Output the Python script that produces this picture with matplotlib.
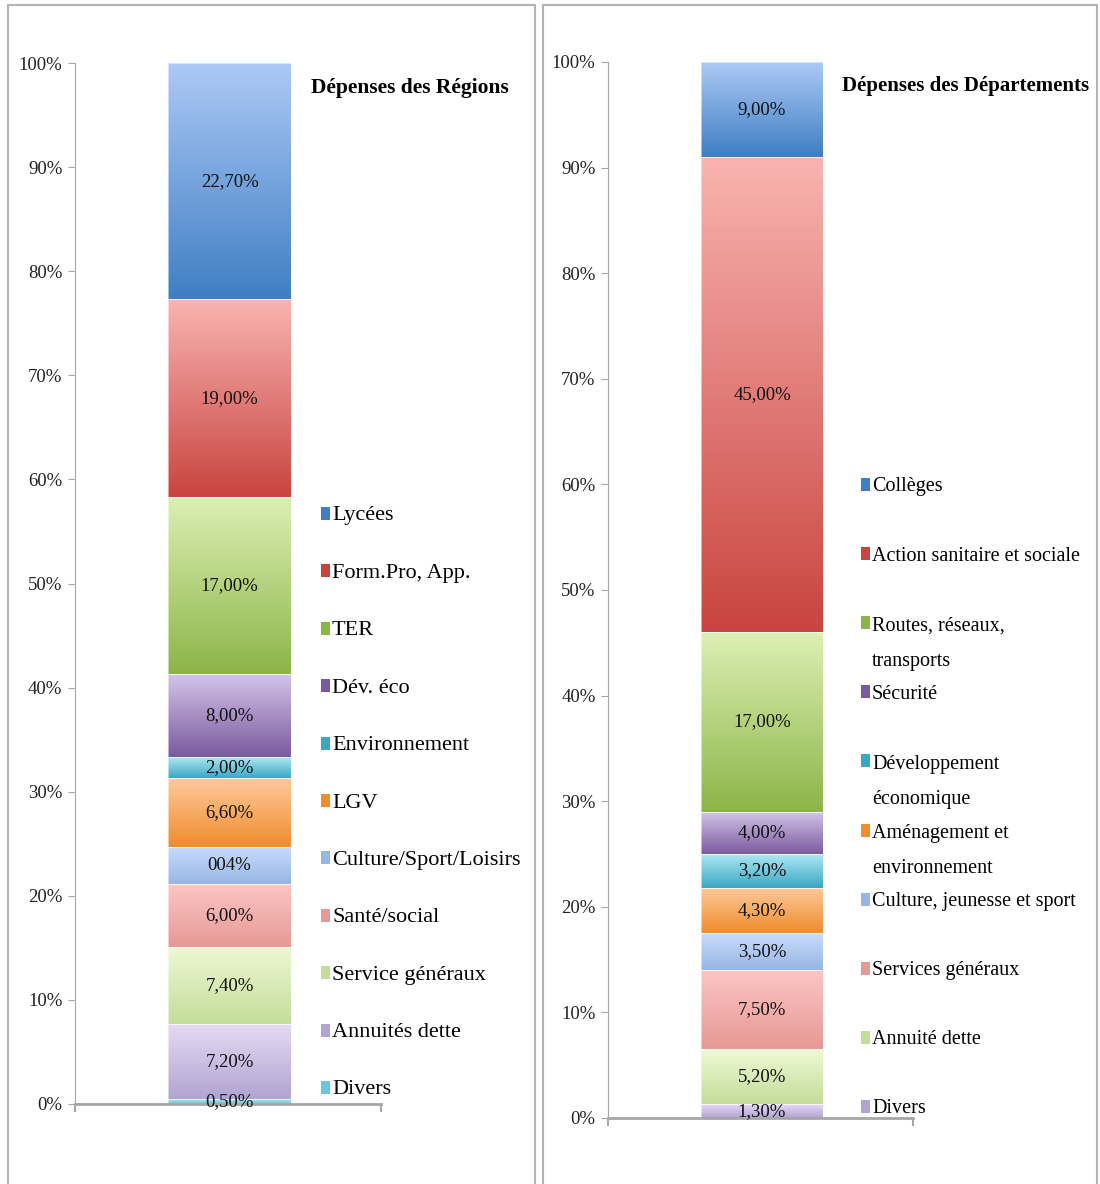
import numpy as np
import matplotlib
matplotlib.use("Agg")
import matplotlib.pyplot as plt
from matplotlib.colors import LinearSegmentedColormap
from matplotlib.patches import Rectangle

plt.rcParams['font.family'] = ['Liberation Serif', 'DejaVu Serif']

# Dépenses des Régions (du bas vers le haut)
reg_names = ["Divers", "Annuités dette", "Service généraux", "Santé/social",
             "Culture/Sport/Loisirs", "LGV", "Environnement", "Dév. éco",
             "TER", "Form.Pro, App.", "Lycées"]
reg_values = [0.5, 7.2, 7.4, 6.0, 3.6, 6.6, 2.0, 8.0, 17.0, 19.0, 22.7]
reg_labels = ["0,50%", "7,20%", "7,40%", "6,00%", "004%", "6,60%", "2,00%",
              "8,00%", "17,00%", "19,00%", "22,70%"]

# Dépenses des Départements (du bas vers le haut)
dep_names = ["Divers", "Annuité dette", "Services généraux",
             "Culture, jeunesse et sport", "Aménagement et\nenvironnement",
             "Développement\néconomique", "Sécurité",
             "Routes, réseaux,\ntransports", "Action sanitaire et sociale",
             "Collèges"]
dep_values = [1.3, 5.2, 7.5, 3.5, 4.3, 3.2, 4.0, 17.0, 45.0, 9.0]
dep_labels = ["1,30%", "5,20%", "7,50%", "3,50%", "4,30%", "3,20%", "4,00%",
              "17,00%", "45,00%", "9,00%"]

# (foncé en bas, clair en haut)
BLUE = ("#3f7ec4", "#adcaf6")
RED = ("#c9443f", "#f9b4b1")
GREEN = ("#8cb548", "#dcf0b4")
PURPLE = ("#7a5a9e", "#d4c6ea")
CYAN = ("#3aa8c3", "#aee7f5")
ORANGE = ("#f08c2c", "#fdca9c")
LBLUE = ("#98b6e4", "#c9dcfb")
LRED = ("#e69996", "#fcc6c4")
LGREEN = ("#c3dd9a", "#eff9d5")
LPURPLE = ("#b3a3d1", "#e5dbf4")
LCYAN = ("#6ac6db", "#b4eaf6")

reg_colors = [LCYAN, LPURPLE, LGREEN, LRED, LBLUE, ORANGE, CYAN, PURPLE,
              GREEN, RED, BLUE]
dep_colors = [LPURPLE, LGREEN, LRED, LBLUE, ORANGE, CYAN, PURPLE, GREEN,
              RED, BLUE]

W, H = 1100, 1184
fig = plt.figure(figsize=(W / 100, H / 100), dpi=100)


def fx(px):
    return px / W


def fy(py):
    return 1 - py / H


# cadres des deux graphiques
for x0, x1 in [(8, 535), (543, 1097)]:
    fig.add_artist(Rectangle((fx(x0), fy(H + 20)), fx(x1 - x0), (H + 15) / H,
                             transform=fig.transFigure, fill=False,
                             edgecolor="#b4b4b4", lw=1.5))


def panel(rect, names, values, labels, colors, title, title_xy, title_fs,
          leg_x, leg_y0, leg_step, leg_fs):
    ax = fig.add_axes(rect)
    vals = np.array(values) / np.sum(values) * 100
    bottoms = np.concatenate([[0], np.cumsum(vals)[:-1]])
    bars = ax.bar([0.505] * len(vals), vals, width=0.4, bottom=bottoms,
                  color="none", edgecolor="none", zorder=2)
    grad = np.linspace(0, 1, 256).reshape(-1, 1)
    for p, c, lab in zip(bars.patches, colors, labels):
        x0, y0 = p.get_x(), p.get_y()
        w, h = p.get_width(), p.get_height()
        cmap = LinearSegmentedColormap.from_list("g", list(c))
        ax.imshow(grad, cmap=cmap, origin="lower", aspect="auto",
                  extent=[x0, x0 + w, y0, y0 + h], zorder=1,
                  interpolation="bilinear")
        ax.add_patch(Rectangle((x0, y0), w, h, fill=False,
                               edgecolor="white", lw=0.6, alpha=0.6, zorder=2))
        ax.text(x0 + w / 2, y0 + h / 2, lab, ha="center", va="center",
                fontsize=13.5, color="#111111", zorder=4)
    ax.set_xlim(0, 1)
    ax.set_ylim(0, 100)
    ax.set_yticks(np.arange(0, 101, 10))
    ax.set_yticklabels([f"{v}%" for v in range(0, 101, 10)])
    ax.set_xticks([0, 1])
    ax.set_xticklabels(["", ""])
    for s in ["top", "right"]:
        ax.spines[s].set_visible(False)
    ax.spines["left"].set_color("#a6a6a6")
    ax.spines["bottom"].set_color("#a6a6a6")
    ax.spines["bottom"].set_linewidth(2)
    ax.spines["bottom"].set_zorder(3)
    ax.tick_params(axis="y", length=5, color="#a6a6a6", labelsize=13.5,
                   labelcolor="#222222", pad=4)
    ax.tick_params(axis="x", length=6, color="#a6a6a6", width=1.5)
    ax.set_facecolor("none")

    fig.text(fx(title_xy[0]), fy(title_xy[1]), title, fontsize=title_fs,
             fontweight="bold", ha="left", va="center")

    # légende
    line_px = 37
    for i, (n, c) in enumerate(zip(names[::-1], colors[::-1])):
        yc = leg_y0 + i * leg_step
        nl = n.count("\n")
        fig.add_artist(Rectangle((fx(leg_x - 11), fy(yc + 4)), fx(9), 13 / H,
                                 transform=fig.transFigure,
                                 facecolor=c[0], edgecolor="none"))
        fig.text(fx(leg_x), fy(yc + nl * line_px / 2), n, fontsize=leg_fs,
                 ha="left", va="center",
                 linespacing=line_px / (leg_fs * 100 / 72 * 0.84))
    return ax


panel([fx(75), fy(1104), fx(306), (1104 - 63) / H], reg_names, reg_values,
      reg_labels, reg_colors, "Dépenses des Régions", (311, 88), 15.5,
      332, 516, 57.4, 16)
panel([fx(608), fy(1118), fx(305), (1118 - 62) / H], dep_names, dep_values,
      dep_labels, dep_colors, "Dépenses des Départements", (842, 86), 15,
      872, 487, 69.1, 14.5)

fig.savefig("out.png", dpi=100)
